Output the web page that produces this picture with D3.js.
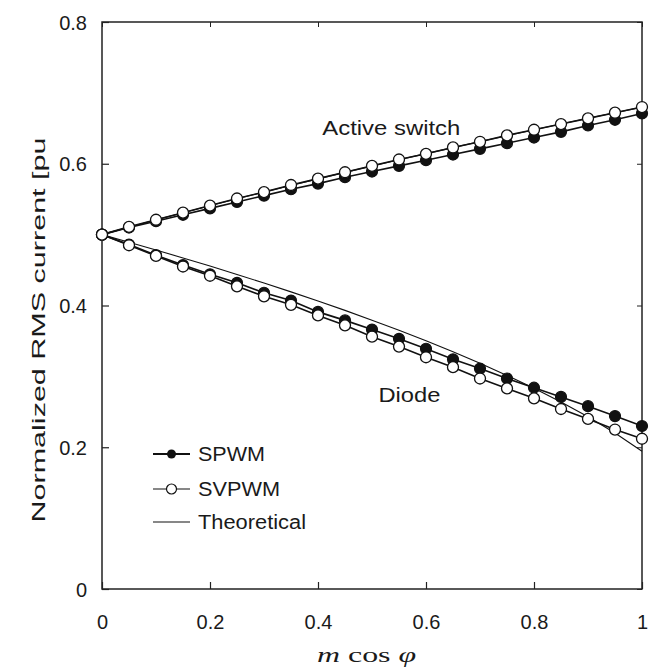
<!DOCTYPE html>
<html><head><meta charset="utf-8">
<script src="https://cdn.jsdelivr.net/npm/d3@7"></script>
<style>
html,body{margin:0;padding:0;background:#fff;}
svg text{font-family:Arial,"Liberation Sans",Helvetica,sans-serif;fill:#1a1a1a;}
</style></head>
<body><svg id="chart" width="659" height="672"></svg>
<script>
const xValues = [0,0.05,0.1,0.15,0.2,0.25,0.3,0.35,0.4,0.45,0.5,0.55,0.6,0.65,0.7,0.75,0.8,0.85,0.9,0.95,1];
const spwmActive  = [0.500,0.510,0.519,0.528,0.537,0.546,0.555,0.564,0.572,0.581,0.589,0.597,0.605,0.613,0.621,0.629,0.637,0.645,0.654,0.662,0.671];
const svpwmActive = [0.500,0.511,0.521,0.531,0.541,0.551,0.560,0.570,0.579,0.588,0.597,0.606,0.614,0.623,0.631,0.640,0.648,0.656,0.664,0.672,0.680];
const spwmDiode   = [0.500,0.486,0.471,0.457,0.444,0.432,0.418,0.407,0.391,0.379,0.366,0.353,0.339,0.324,0.311,0.297,0.284,0.271,0.258,0.244,0.230];
const svpwmDiode  = [0.500,0.485,0.470,0.455,0.442,0.427,0.413,0.401,0.386,0.372,0.356,0.342,0.327,0.313,0.297,0.283,0.269,0.254,0.240,0.225,0.212];
const theoActive  = [0.500,0.5105,0.5208,0.5309,0.5408,0.5505,0.5601,0.5694,0.5787,0.5878,0.5967,0.6056,0.6143,0.6228,0.6313,0.6396,0.6479,0.6560,0.6641,0.6720,0.6799];
const theoDiode   = [0.500,0.4893,0.4783,0.4671,0.4556,0.4438,0.4317,0.4192,0.4064,0.3931,0.3793,0.3651,0.3503,0.3348,0.3185,0.3014,0.2833,0.2639,0.2429,0.2200,0.1944];
const xTicks = [0,0.2,0.4,0.6,0.8,1];
const xTickLabels = ["0","0.2","0.4","0.6","0.8","1"];
const yTicks = [0,0.2,0.4,0.6,0.8];
const yTickLabels = ["0","0.2","0.4","0.6","0.8"];
const legendItems = ["SPWM","SVPWM","Theoretical"];
const legendWidths = [67,82,108];
const annotations = [{text:"Active switch", x:0.408, y:0.640, w:138},{text:"Diode", x:0.512, y:0.264, w:62}];

const svg = d3.select("#chart");
const L=102, R=642, T=22, B=589;
const x = d3.scaleLinear().domain([0,1]).range([L,R]);
const y = d3.scaleLinear().domain([0,0.8]).range([B,T]);

// frame
svg.append("rect").attr("x",L).attr("y",T).attr("width",R-L).attr("height",B-T)
  .attr("fill","none").attr("stroke","#222").attr("stroke-width",1.5);

// axes with inward ticks
const xAxis = svg.append("g").attr("transform",`translate(0,${B})`)
  .call(d3.axisBottom(x).tickValues(xTicks).tickSize(-7).tickPadding(0).tickFormat((d,i)=>xTickLabels[i]));
xAxis.select(".domain").remove();
xAxis.selectAll("line").attr("stroke","#222").attr("stroke-width",1.2);
xAxis.selectAll("text").attr("font-size",20).attr("dy",null).attr("y",40).attr("fill","#1a1a1a");

const yAxis = svg.append("g").attr("transform",`translate(${L},0)`)
  .call(d3.axisLeft(y).tickValues(yTicks).tickSize(-7).tickPadding(0).tickFormat((d,i)=>yTickLabels[i]));
yAxis.select(".domain").remove();
yAxis.selectAll("line").attr("stroke","#222").attr("stroke-width",1.2);
yAxis.selectAll("text").attr("font-size",20).attr("x",-15).attr("dy","0.36em").attr("fill","#1a1a1a");

const xTop = svg.append("g").attr("transform",`translate(0,${T})`)
  .call(d3.axisTop(x).tickValues(xTicks).tickSize(-5).tickFormat(""));
xTop.select(".domain").remove();
xTop.selectAll("line").attr("stroke","#222");
const yRight = svg.append("g").attr("transform",`translate(${R},0)`)
  .call(d3.axisRight(y).tickValues(yTicks).tickSize(-5).tickFormat(""));
yRight.select(".domain").remove();
yRight.selectAll("line").attr("stroke","#222");

// axis titles
svg.append("text").attr("transform",`translate(45,330) rotate(-90)`)
  .attr("text-anchor","middle").attr("font-size",19)
  .attr("textLength",385).attr("lengthAdjust","spacingAndGlyphs")
  .text("Normalized RMS current [pu");
const xl = svg.append("text").attr("transform","translate(317,662) scale(1.45,1)")
  .attr("x",0).attr("y",0).attr("font-size",22)
  .style("font-family","'Liberation Serif','Times New Roman',serif");
xl.append("tspan").attr("font-style","italic").text("m");
xl.append("tspan").text(" cos ");
xl.append("tspan").attr("font-style","italic").text("φ");

const line = d3.line().x((d,i)=>x(xValues[i])).y(d=>y(d));

// theoretical
[theoActive, theoDiode].forEach(s=>{
  svg.append("path").datum(s).attr("d",line).attr("fill","none").attr("stroke","#111").attr("stroke-width",1.1);
});
// measured lines
[spwmActive, spwmDiode, svpwmActive, svpwmDiode].forEach(s=>{
  svg.append("path").datum(s).attr("d",line).attr("fill","none").attr("stroke","#111").attr("stroke-width",1.6);
});
// markers
[spwmActive, spwmDiode].forEach(s=>{
  svg.append("g").selectAll("circle").data(s).join("circle")
    .attr("cx",(d,i)=>x(xValues[i])).attr("cy",d=>y(d)).attr("r",5.5)
    .attr("fill","#111").attr("stroke","#111").attr("stroke-width",1.2);
});
[svpwmActive, svpwmDiode].forEach(s=>{
  svg.append("g").selectAll("circle").data(s).join("circle")
    .attr("cx",(d,i)=>x(xValues[i])).attr("cy",d=>y(d)).attr("r",5.5)
    .attr("fill","#fff").attr("stroke","#111").attr("stroke-width",1.3);
});

// annotations
svg.append("g").selectAll("text").data(annotations).join("text")
  .attr("x",d=>x(d.x)).attr("y",d=>y(d.y)).attr("font-size",20)
  .attr("textLength",d=>d.w).attr("lengthAdjust","spacingAndGlyphs").text(d=>d.text);

// legend
const lg = svg.append("g");
const legY = [454,489,522];
legendItems.forEach((name,i)=>{
  const g = lg.append("g").attr("transform",`translate(0,${legY[i]})`);
  g.append("line").attr("x1",153).attr("x2",190).attr("y1",0).attr("y2",0)
    .attr("stroke","#111").attr("stroke-width",i===0?1.8:1.1);
  if(i===0) g.append("circle").attr("cx",171.5).attr("cy",0).attr("r",4.5).attr("fill","#111");
  if(i===1) g.append("circle").attr("cx",171.5).attr("cy",0).attr("r",5).attr("fill","#fff").attr("stroke","#111").attr("stroke-width",1.2);
  g.append("text").attr("x",198).attr("y",7).attr("font-size",20)
    .attr("textLength",legendWidths[i]).attr("lengthAdjust","spacingAndGlyphs").text(name);
});
</script></body></html>
